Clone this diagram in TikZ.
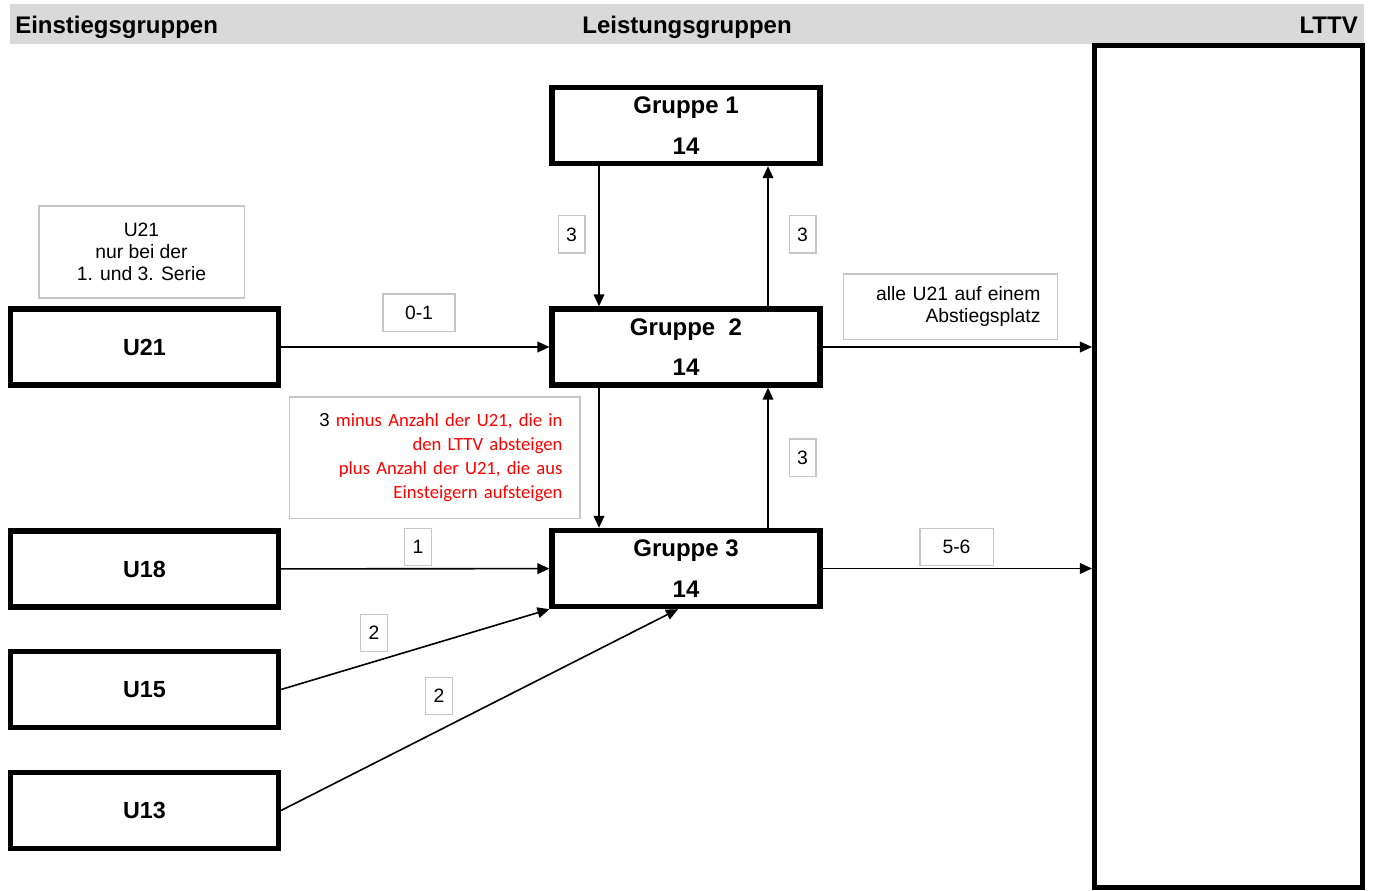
\documentclass[tikz,border=0pt]{standalone}
\usepackage{xcolor}
\usepackage{fontspec}
\setmainfont{Liberation Sans}
\newfontfamily\calibri{Carlito}
\usepackage{tikz}
\usetikzlibrary{positioning,arrows.meta}
\tikzset{
  box/.style={draw, line width=4pt, minimum width=200.8pt, minimum height=57pt, inner sep=0pt, font=\fontsize{17.5}{21}\selectfont\bfseries},
  gruppe/.style={box, align=center, font=\fontsize{18}{30.5}\selectfont\bfseries},
  note/.style={draw=gray!45, line width=1pt, inner sep=0pt, font=\fontsize{14.5}{16.5}\selectfont},
  zahl/.style={note, minimum width=20pt, minimum height=28pt},
  pfeil/.style={line width=1.2pt, -{Triangle[length=9pt,width=8pt]}},
  kopf/.style={inner sep=0pt, font=\fontsize{18}{21}\selectfont\bfseries}
}

\begin{document}
\begin{tikzpicture}[x=0.75pt, y=-0.75pt]
					\useasboundingbox (0,0) rectangle (1373,891);
					% Kopfzeile
					\fill[gray!30] (10,4) rectangle (1364,44);
					\node[kopf, anchor=base west] (ein) at (15,34) {Einstiegsgruppen};
					\node[kopf, anchor=base] (leist) at (687,34) {Leistungsgruppen};
					\node[kopf, anchor=base east] (lttvkopf) at (1358,34) {LTTV};
					
					\node[draw, line width=4pt, minimum width=200.8pt, minimum height=631pt] (LTTV) at (1228.5,466.5) {};
					
					\node[gruppe] (G1) at (686,125.5) {Gruppe 1\\14};
					\node[gruppe] (G2) at (686,347) {Gruppe~~2\\14};
					\node[gruppe] (G3) at (686,568.5) {Gruppe 3\\14};
					
					\foreach \n/\y in {U21/347, U18/569, U15/689.5, U13/810.5} {
						\node[box] (\n) at (144.5,\y) {\n};
					}
					
					% Anmerkungen
					\node[note, align=center, minimum width=154pt, minimum height=69pt] (serie) at (141.5,252) {U21\\nur bei der\\1. und 3. Serie};
					\node[note, align=right, text width=135pt, inner xsep=12.75pt, minimum height=49pt] (alle) at (950.5,306.5) {alle U21 auf einem\\Abstiegsplatz};
					\node[note, align=right, text width=192pt, inner xsep=13pt, minimum height=91pt, font=\calibri\fontsize{14}{18}\selectfont\color{red}] (minus) at (434.5,457.5) {{\rmfamily\color{black}3} minus Anzahl der U21, die in\\den LTTV absteigen\\plus Anzahl der U21, die aus\\Einsteigern aufsteigen};
					
					\foreach \n/\x/\y/\t in {dreiA/571.5/234.5/3, dreiB/802.5/234.5/3, dreiC/802.5/457.5/3, eins/418/547/1, zweiA/374/633/2, zweiB/439/696/2} {
						\node[zahl] (\n) at (\x,\y) {\t};
					}
					\node[zahl, minimum width=54pt] (nulleins) at (419,312.5) {0-1};
					\node[zahl, minimum width=55pt] (fuenfsechs) at (956.5,547) {5-6};
					
					% Auf- und Abstiege
					\coordinate (links) at (599,0);
					\coordinate (rechts) at (768,0);
					\draw[pfeil] (G1.south -| links) -- (G2.north -| links);
					\draw[pfeil] (G2.north -| rechts) -- (G1.south -| rechts);
					\draw[pfeil] (G2.south -| links) -- (G3.north -| links);
					\draw[pfeil] (G3.north -| rechts) -- (G2.south -| rechts);
					\draw[pfeil] (U21) -- (G2);
					\draw[pfeil] (G2.east) -- (G2.east -| LTTV.west);
					\draw[pfeil] (U18) -- (G3);
					\draw[pfeil] (G3.east) -- (G3.east -| LTTV.west);
					\draw[pfeil] (U15.east) -- (G3.south west);
					\draw[pfeil] (U13.east) -- ([xshift=-6pt]G3.south);
				\end{tikzpicture}
\end{document}
